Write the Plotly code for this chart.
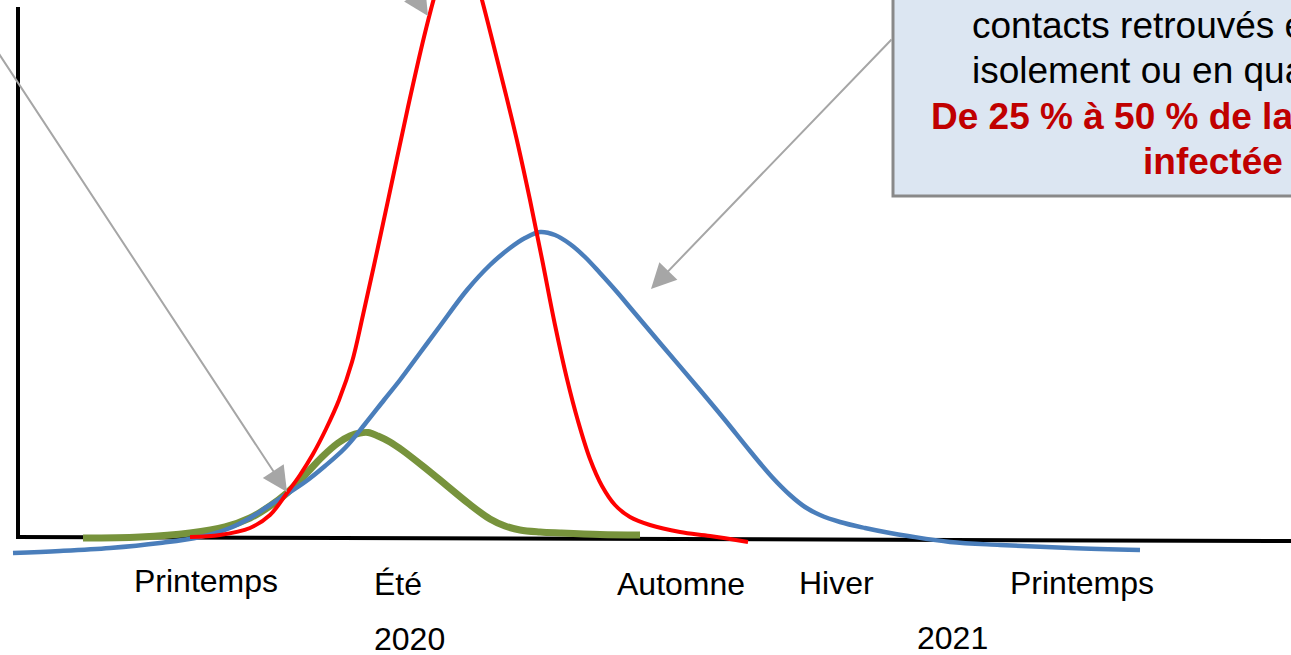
import plotly.graph_objects as go

# Schematic epidemic curves: time along x, number of cases along y (baseline = 0)
time_red = [190, 220, 250, 270, 287, 300, 313, 326, 339, 352, 363, 378, 393, 408, 424, 436,
            446, 458, 470, 482, 494, 506, 518, 530, 542, 555, 567, 578, 590, 602, 615, 630,
            650, 680, 710, 748]
cases_red = [0, 2, 9, 22, 44, 62, 83, 108, 137, 175, 222, 290, 360, 430, 500, 546,
             578, 596, 580, 537, 490, 442, 392, 337, 278, 212, 158, 116, 78, 51, 32, 20,
             12, 5, 1, -5]

time_green = [83, 140, 190, 225, 250, 270, 287, 305, 322, 338, 350, 360, 368, 378, 390, 402,
              424, 446, 468, 490, 505, 520, 540, 560, 600, 640]
cases_green = [-1, 0, 4, 10, 19, 31, 44, 62, 80, 94, 101, 104, 104.5, 101, 95, 87,
               70, 52, 34, 18, 11, 7, 5, 4, 2.5, 2]

time_blue = [13, 60, 110, 160, 200, 230, 250, 267, 287, 305, 325, 345, 365, 384, 400, 420, 440,
             467, 490, 510, 525, 540, 555, 570, 585, 600, 617, 633, 660, 700, 725, 750, 772,
             790, 805, 820, 840, 865, 890, 908, 950, 1000, 1070, 1140]
cases_blue = [-16, -14, -11, -6, 0, 9, 19, 30, 43, 55, 71, 89, 113, 137, 157, 184, 211,
              247, 272, 289, 299, 305, 302, 293, 280, 264, 245, 226, 194, 147, 117, 86, 60,
              42, 30, 22, 15, 9, 4, 1, -5, -8, -11, -13]

# Season and year labels along the time axis
season_labels = ["Printemps", "Été", "Automne", "Hiver", "Printemps"]
season_time = [132, 372, 615, 797, 1008]
season_level = [-44, -47, -47, -46, -46]
year_labels = ["2020", "2021"]
year_time = [372, 915]
year_level = [-102, -101]

# Callout box text
box_lines = ["contacts retrouvés et mis en", "isolement ou en quarantaine",
             "<b>De 25 % à 50 % de la population</b>", "<b>infectée</b>"]
box_line_x = [970, 970, 929, 1141]
box_line_y = [512, 467, 421, 376]
box_line_color = ["#000000", "#000000", "#C00000", "#C00000"]

FONT = "Liberation Sans, Arial, sans-serif"

fig = go.Figure()
fig.add_trace(go.Scatter(x=time_green, y=cases_green, mode="lines",
                         line=dict(color="#77933C", width=7, shape="spline", smoothing=1),
                         hoverinfo="skip"))
fig.add_trace(go.Scatter(x=time_blue, y=cases_blue, mode="lines",
                         line=dict(color="#4A7EBB", width=4.5, shape="spline", smoothing=1),
                         hoverinfo="skip"))
fig.add_trace(go.Scatter(x=time_red, y=cases_red, mode="lines",
                         line=dict(color="#FF0000", width=4, shape="spline", smoothing=1),
                         hoverinfo="skip"))

shapes = [
    # hand-drawn style axes
    dict(type="line", xref="x", yref="y", x0=18, y0=-1, x1=18, y1=530,
         line=dict(color="black", width=4), layer="below"),
    dict(type="line", xref="x", yref="y", x0=16, y0=0, x1=1295, y1=-4,
         line=dict(color="black", width=4), layer="below"),
    # callout box
    dict(type="rect", xref="x", yref="y", x0=893, y0=341, x1=1330, y1=580,
         fillcolor="#DCE6F2", line=dict(color="#898989", width=3), layer="below"),
]

annotations = []
for lab, t, lv in zip(season_labels, season_time, season_level):
    annotations.append(dict(x=t, y=lv, xref="x", yref="y", text=lab, showarrow=False,
                            xanchor="left", yanchor="middle",
                            font=dict(family=FONT, size=32, color="black")))
for lab, t, lv in zip(year_labels, year_time, year_level):
    annotations.append(dict(x=t, y=lv, xref="x", yref="y", text=lab, showarrow=False,
                            xanchor="left", yanchor="middle",
                            font=dict(family=FONT, size=32, color="black")))
for txt, bx, by, col in zip(box_lines, box_line_x, box_line_y, box_line_color):
    annotations.append(dict(x=bx, y=by, xref="x", yref="y", text=txt, showarrow=False,
                            xanchor="left", yanchor="middle",
                            font=dict(family=FONT, size=37, color=col)))

# pointer arrows
arrows = [
    dict(x=287, y=45, ax=-20, ay=512),
    dict(x=428, y=521, ax=396, ay=572),
    dict(x=651, y=248, ax=893, ay=499),
]
for a in arrows:
    annotations.append(dict(x=a["x"], y=a["y"], ax=a["ax"], ay=a["ay"], xref="x", yref="y",
                            axref="x", ayref="y", text="", showarrow=True,
                            arrowhead=2, arrowsize=2.5, arrowwidth=2, arrowcolor="#A6A6A6",
                            standoff=0))

fig.update_layout(
    width=1291, height=655, autosize=False,
    margin=dict(l=0, r=0, t=0, b=0),
    paper_bgcolor="white", plot_bgcolor="white",
    showlegend=False,
    xaxis=dict(range=[0, 1291], visible=False, fixedrange=True),
    yaxis=dict(range=[-118, 537], visible=False, fixedrange=True),
    shapes=shapes,
    annotations=annotations,
)

fig.write_html("out.html")
